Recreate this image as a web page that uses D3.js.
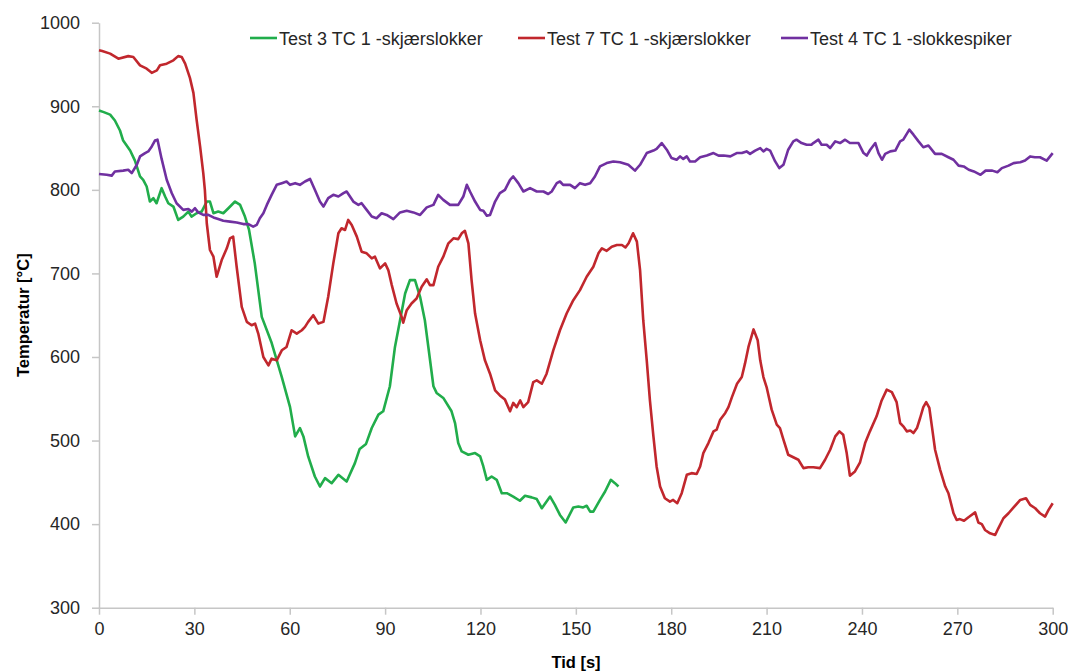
<!DOCTYPE html>
<html>
<head>
<meta charset="utf-8">
<script src="https://cdn.jsdelivr.net/npm/d3@7"></script>
<style>
body { margin: 0; background: #fff; }
text { font-family: "Liberation Sans", Arial, sans-serif; }
</style>
</head>
<body>
<svg width="1068" height="671"></svg>
<script>
// [tid (s), temperatur (°C)]
var test3 = [[0,895],[1.5,893],[3.5,890],[5,883],[6.6,871],[7.6,859],[9.8,847],[11.3,835],[12.9,816],[13.9,812],[15,804],[16,786],[17.1,790],[18.1,784],[19.7,802],[20.8,792],[21.8,784],[23.4,780],[24.9,764],[26.5,768],[28.1,774],[29.1,768],[30.7,772],[32.3,774],[33.9,786],[34.9,786],[36,772],[37.5,774],[39.1,772],[40.7,778],[42.8,786],[44.4,782],[45.9,768],[47.2,752],[49,712],[51.2,648],[54.3,617],[57.5,576],[60.1,540],[61.7,505],[63.2,515],[64.3,505],[65.8,481],[67.9,457],[69.5,445],[71.1,455],[73.2,449],[75.3,459],[77.9,451],[80.5,473],[82,490],[84,496],[85.8,515],[87.9,531],[89.4,535],[91.5,565],[93.1,612],[94.7,644],[96.3,676],[97.8,692],[99.4,692],[101,672],[102.5,644],[103.6,612],[105.2,565],[106.2,557],[108.3,551],[110.9,535],[112,521],[113,497],[114.1,487],[116.2,483],[118.3,485],[119.9,481],[120.9,469],[122,453],[123.5,457],[125.1,453],[126.7,437],[128.3,437],[130.3,433],[132.4,428],[134,434],[136.1,432],[137.7,430],[139.3,419],[141.9,433],[143.4,423],[145,411],[146.8,402],[149.2,420],[150.8,421],[152.3,420],[153.4,422],[154.5,415],[155.5,415],[157.6,429],[159.2,439],[161,453],[162.3,449],[163.4,445]];

var test7 = [[0,967],[1,966],[3.5,963],[6.1,957],[9.2,960],[10.8,959],[12.9,949],[15,945],[16.6,940],[18.2,943],[19.2,949],[21.3,951],[23.4,955],[24.9,960],[26,959],[27.1,951],[28.6,934],[29.7,916],[30.7,884],[31.8,852],[32.8,820],[33.3,800],[33.9,760],[34.9,728],[36,720],[37,696],[38.6,716],[40.2,730],[41.2,742],[42.2,744],[43.3,708],[44.9,660],[46.5,642],[48,638],[49.1,640],[50.1,628],[51.7,600],[53.3,590],[54.3,598],[55.9,596],[57.5,608],[59,612],[60.6,632],[62.2,628],[63.8,632],[64.8,636],[65.8,642],[67.4,650],[69,640],[70.6,642],[72.1,672],[73.7,712],[75.3,748],[76.3,754],[77.4,752],[78.4,764],[79.5,758],[81.1,744],[82.6,726],[84.2,724],[85.8,718],[86.8,720],[88.4,706],[90,712],[91,704],[92.1,686],[93.6,664],[95.2,648],[95.7,641],[96.8,656],[98.3,664],[99.9,670],[101.5,684],[103.1,693],[104.1,686],[105.2,686],[106.7,708],[108.3,720],[109.9,736],[111.5,742],[113,741],[114.1,748],[115.1,751],[116.2,736],[117.2,692],[118.3,652],[119.9,620],[121.4,596],[123,580],[124.6,560],[126.1,554],[127.7,549],[129.3,535],[130.3,545],[131.4,540],[132.5,548],[133.5,540],[135,546],[136.6,570],[137.7,572],[139.3,568],[140.8,580],[142.9,608],[145,632],[147.1,652],[149.2,668],[151.3,680],[153.4,696],[155.5,708],[157.1,724],[158.2,730],[159.7,727],[161.3,732],[162.9,734],[164.5,734],[165.6,731],[166.6,736],[168,748],[169.2,738],[170.2,704],[171.2,644],[172.3,596],[173.3,548],[174.4,505],[175.4,469],[176.5,445],[178,431],[179.6,427],[180.6,429],[181.9,425],[183.3,437],[184.9,459],[186.4,461],[188,460],[189.1,469],[190.1,485],[191.7,497],[193.3,511],[194.3,513],[195.4,525],[197,533],[198,540],[199.1,552],[200.7,568],[202.2,576],[203.2,592],[204.3,612],[205.9,633],[207.2,620],[208,596],[209,576],[210,564],[211.6,537],[213.2,519],[214.2,515],[215.3,501],[216.8,483],[218.4,480],[220,477],[221.6,467],[223.1,468],[224.7,468],[226.8,467],[228.4,477],[230,489],[231.6,505],[232.9,511],[234.1,507],[235.2,485],[236.2,458],[237.8,463],[239.4,474],[241,497],[242.5,511],[244.6,529],[246.2,548],[247.8,561],[249.4,558],[250.9,546],[252,521],[253,517],[254.1,511],[255.2,512],[256.2,509],[257.3,515],[258.3,527],[259.3,540],[260.2,546],[261.2,539],[262,517],[263,489],[264.6,465],[266.2,445],[267.2,437],[268.8,413],[269.8,405],[270.8,406],[272.1,404],[273.4,408],[275.6,414],[276.6,402],[277.7,400],[278.7,393],[280.3,389],[281.9,387],[282.9,395],[284.5,407],[286.1,413],[287.7,420],[289.8,429],[291.6,431],[292.9,423],[294.5,419],[296,413],[297.6,409],[298.7,417],[300,425]];

var test4 = [[0,819],[2.4,818],[4,817],[5,822],[7.6,823],[9.2,824],[10.3,820],[11.9,830],[12.9,840],[14.5,844],[15.5,846],[16.6,852],[17.6,859],[18.4,860],[19.7,837],[21.3,812],[22.9,796],[24.4,784],[26.5,776],[28.1,777],[29.2,774],[30.2,778],[31.2,773],[32.8,770],[34.4,770],[36,767],[37.5,765],[39.1,763],[41.2,762],[43.3,761],[45.4,759],[47,759],[48.5,756],[49.6,758],[50.6,766],[51.7,772],[52.8,782],[54.3,794],[55.9,806],[57.5,808],[59,810],[60.1,806],[61.7,808],[63.2,806],[64.8,810],[66.4,813],[67.9,800],[69.5,786],[70.6,780],[72.1,790],[73.7,794],[75.3,792],[76.9,796],[77.9,798],[80,786],[81.6,782],[82.6,784],[84.2,776],[85.8,768],[87.3,766],[88.9,772],[90.5,770],[92.6,765],[94.7,773],[96.8,775],[98.9,773],[101,770],[103.1,779],[105.2,782],[106.7,794],[108.3,788],[110.4,782],[113,782],[114.6,792],[115.7,806],[116.7,798],[118.3,786],[119.9,776],[120.9,775],[122,769],[123,770],[124.6,786],[126.1,796],[127.7,800],[129.3,812],[130.3,816],[131.9,808],[133.5,798],[135.6,802],[137.7,798],[139.8,798],[141.3,795],[142.4,798],[144,808],[145,810],[146,806],[148.2,806],[149.7,802],[151.3,808],[152.9,806],[154.5,808],[156,816],[157.6,828],[159.7,832],[161.8,834],[163.9,833],[166.5,830],[168.6,823],[170.2,830],[172.3,844],[174.4,847],[175.4,849],[177,856],[178.6,848],[180.1,838],[181.7,836],[182.8,840],[183.8,837],[184.9,840],[185.9,834],[187.5,834],[189.1,839],[191.2,841],[193.3,844],[194.9,841],[196.5,841],[198.6,840],[200.6,844],[202.2,844],[203.7,846],[204.8,843],[206.4,847],[208,850],[209,846],[210,849],[211.1,847],[212.7,834],[214,826],[215.3,830],[216.8,848],[218.4,858],[219.4,860],[221,856],[222.6,854],[224.1,854],[224.7,856],[226.3,860],[227.3,854],[228.9,854],[230,850],[231.6,858],[233.1,856],[234.7,860],[236.2,856],[238.9,856],[240.5,844],[241.5,841],[242.6,848],[244.2,856],[245.2,844],[246.3,836],[247.3,843],[248.9,846],[250.5,847],[252,858],[253,860],[254.9,872],[256.2,866],[257.8,858],[259.3,851],[260.9,853],[263,843],[265.1,843],[267.2,839],[268.8,836],[270.4,829],[272,828],[273.6,824],[275.2,822],[277.3,818],[278.9,823],[281,823],[282.6,821],[284,826],[286.1,829],[287.7,832],[289.8,833],[291.3,835],[292.9,840],[294.4,839],[296,839],[298.1,835],[300,844]];

var seriesNames = ["Test 3 TC 1 -skjærslokker", "Test 7 TC 1 -skjærslokker", "Test 4 TC 1 -slokkespiker"];
var seriesColors = ["#21ad4b", "#c1272d", "#7030a0"];
var xTicks = [0, 30, 60, 90, 120, 150, 180, 210, 240, 270, 300];
var yTicks = [300, 400, 500, 600, 700, 800, 900, 1000];

var margin = {l: 99, t: 22.7, r: 15.3, b: 63.3};
var width = 1068 - margin.l - margin.r;
var height = 671 - margin.t - margin.b;

var svg = d3.select("svg");
var g = svg.append("g")
    .attr("transform", "translate(" + margin.l + "," + margin.t + ")");

var x = d3.scaleLinear().domain([0, 300]).range([0, width]);
var y = d3.scaleLinear().domain([300, 1000]).range([height, 0]);

// akser
g.append("g")
    .attr("transform", "translate(0," + height + ")")
    .call(d3.axisBottom(x).tickValues(xTicks).tickFormat(d3.format("d"))
        .tickSizeInner(7).tickSizeOuter(0).tickPadding(8));
g.append("g")
    .call(d3.axisLeft(y).tickValues(yTicks).tickFormat(d3.format("d"))
        .tickSizeInner(7).tickSizeOuter(0).tickPadding(12));

g.selectAll(".domain, .tick line")
    .style("stroke", "#c6c6c6")
    .style("stroke-width", 1.5);
g.selectAll(".tick text")
    .style("font-size", "18px")
    .style("fill", "#262626");

// linjer
var line = d3.line()
    .x(function (d) { return x(d[0]); })
    .y(function (d) { return y(d[1]); });

var allSeries = [test3, test7, test4];
allSeries.forEach(function (data, i) {
    g.append("path")
        .datum(data)
        .attr("d", line)
        .attr("fill", "none")
        .attr("stroke", seriesColors[i])
        .attr("stroke-width", 2.6)
        .attr("stroke-linejoin", "round");
});

// legend
var legendX = [250, 518, 781];
seriesNames.forEach(function (name, i) {
    var lg = svg.append("g").attr("transform", "translate(" + legendX[i] + ",38)");
    lg.append("line")
        .attr("x1", 0).attr("x2", 27)
        .attr("y1", 0).attr("y2", 0)
        .attr("stroke", seriesColors[i])
        .attr("stroke-width", 2.6);
    lg.append("text")
        .attr("x", 29)
        .attr("y", 6.5)
        .text(name)
        .style("font-size", "18px")
        .style("fill", "#262626");
});

// aksetitler
svg.append("text")
    .attr("transform", "translate(29," + (margin.t + height / 2) + ") rotate(-90)")
    .attr("text-anchor", "middle")
    .text("Temperatur [°C]")
    .style("font-size", "16.5px")
    .style("font-weight", "bold")
    .style("fill", "#000");

svg.append("text")
    .attr("x", 576)
    .attr("y", 668)
    .attr("text-anchor", "middle")
    .text("Tid [s]")
    .style("font-size", "16.5px")
    .style("font-weight", "bold")
    .style("fill", "#000");
</script>
</body>
</html>
